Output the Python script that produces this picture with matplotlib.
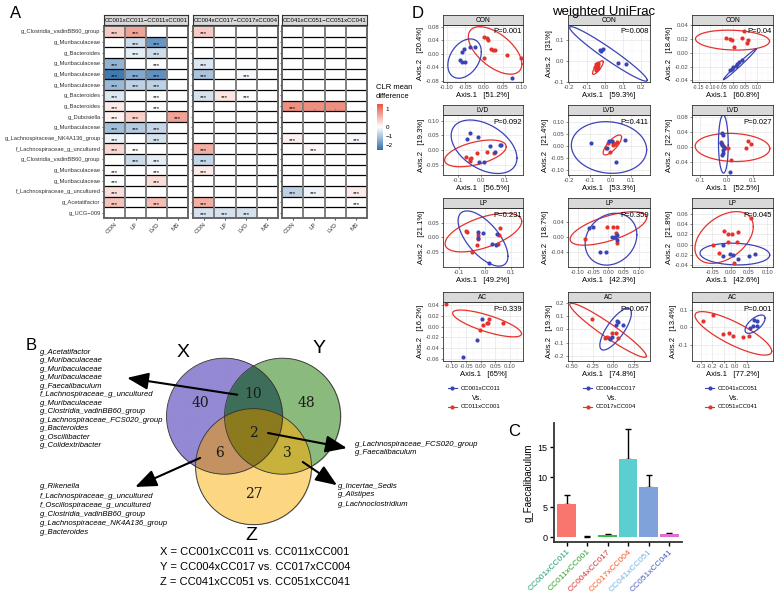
import numpy as np
import matplotlib
matplotlib.use('Agg')
import matplotlib.pyplot as plt
from matplotlib.colors import LinearSegmentedColormap, TwoSlopeNorm, to_rgba
from matplotlib.patches import Circle
from matplotlib.lines import Line2D
from matplotlib.ticker import AutoMinorLocator, FormatStrFormatter
import matplotlib.cm as cm

plt.rcParams['font.family'] = ['Liberation Sans', 'DejaVu Sans']

W, H = 778, 596
n = np.nan

# ---------------- panel A data ----------------
genera = ['g_Clostridia_vadinBB60_group', 'g_Muribaculaceae', 'g_Bacteroides', 'g_Muribaculaceae',
          'g_Muribaculaceae', 'g_Muribaculaceae', 'g_Bacteroides', 'g_Bacteroides', 'g_Dubosiella',
          'g_Muribaculaceae', 'g_Lachnospiraceae_NK4A136_group', 'f_Lachnospiraceae_g_uncultured',
          'g_Clostridia_vadinBB60_group', 'g_Muribaculaceae', 'g_Muribaculaceae',
          'f_Lachnospiraceae_g_uncultured', 'g_Acetatifactor', 'g_UCG\u2212009']
sites = ['CON', 'LP', 'LVD', 'MS']
facet_titles = ['CC001xCC011\u2212CC011xCC001', 'CC004xCC017\u2212CC017xCC004',
                'CC041xCC051\u2212CC051xCC041']
clr_x = [[0.4, 0.7, n, n], [n, -0.6, -1.8, n], [n, -0.3, -0.6, n], [-1.3, n, -0.05, n],
         [-2.3, -1.5, -1.9, n], [-1.2, -0.8, -0.8, n], [-0.4, n, -0.05, n], [0.15, n, 0.0, n],
         [0.1, 0.35, n, 0.7], [-1.1, -0.9, -0.7, n], [-0.2, n, -0.5, n], [0.3, 0.0, n, n],
         [n, -0.6, -0.3, n], [0.0, n, 0.0, n], [0.0, n, 0.25, n], [0.25, n, n, n],
         [0.45, n, 0.5, n], [n, n, n, n]]
clr_y = [[0.4, n, n, n], [n, n, n, n], [n, n, n, n], [-0.4, n, n, n], [-1.0, n, -0.1, n],
         [n, n, n, n], [-0.5, 0.2, -0.05, n], [n, n, n, n], [n, n, n, n], [n, n, n, n],
         [n, n, n, n], [0.6, n, n, n], [-0.7, n, n, n], [0.15, n, n, n], [n, n, n, n],
         [n, n, n, n], [0.6, n, n, n], [-0.5, -0.5, -0.5, n]]
clr_z = [[n, n, n, n], [n, n, n, n], [n, n, n, n], [n, n, n, n], [n, n, n, n], [n, n, n, n],
         [n, n, n, n], [0.85, 0.85, 0.85, n], [n, n, n, n], [n, n, n, n], [0.1, n, n, -0.1],
         [n, 0.05, n, n], [n, n, n, n], [n, n, n, n], [n, n, n, n], [-0.8, -0.2, n, 0.15],
         [n, n, n, 0.0], [n, n, n, n]]
dot_cells_z = [(7, 1), (7, 2)]

# ---------------- panel B data ----------------
venn_codes = ['100', '010', '001', '110', '101', '011', '111']
venn_counts = [40, 48, 27, 10, 6, 3, 2]
venn_colors = ['#9489d4', '#8bbb7d', '#fdd782', '#3e6e5a', '#c49262', '#c8b23c', '#8c7a1e']
list_xy = ['g_Acetatifactor', 'g_Muribaculaceae', 'g_Muribaculaceae', 'g_Muribaculaceae',
           'g_Faecalibaculum', 'f_Lachnospiraceae_g_uncultured', 'g_Muribaculaceae',
           'g_Clostridia_vadinBB60_group', 'g_Lachnospiraceae_FCS020_group', 'g_Bacteroides',
           'g_Oscillibacter', 'g_Colidextribacter']
list_xz = ['g_Rikenella', 'f_Lachnospiraceae_g_uncultured', 'f_Oscillospiraceae_g_uncultured',
           'g_Clostridia_vadinBB60_group', 'g_Lachnospiraceae_NK4A136_group', 'g_Bacteroides']
list_xyz = ['g_Lachnospiraceae_FCS020_group', 'g_Faecalibaculum']
list_yz = ['g_Incertae_Sedis', 'g_Alistipes', 'g_Lachnoclostridium']
venn_defs = ['X = CC001xCC011 vs. CC011xCC001', 'Y = CC004xCC017 vs. CC017xCC004',
             'Z = CC041xCC051 vs. CC051xCC041']

# ---------------- panel C data ----------------
crosses = ['CC001xCC011', 'CC011xCC001', 'CC004xCC017', 'CC017xCC004', 'CC041xCC051', 'CC051xCC041']
faecal_mean = [5.5, 0.05, 0.3, 13.0, 8.3, 0.45]
faecal_err = [1.5, 0.05, 0.2, 5.0, 2.0, 0.2]
bar_colors = ['#F8766D', '#C8B560', '#3DB847', '#5BCFCF', '#7FA2DA', '#E070D0']
label_colors = ['#1f9e6e', '#2ca02c', '#e0302f', '#f05a28', '#6cb4e4', '#4a5cc0']

# ---------------- panel D data ----------------
sites_d = ['CON', 'LVD', 'LP', 'AC']
pairs = [('CC001xCC011', 'CC011xCC001'), ('CC004xCC017', 'CC017xCC004'), ('CC041xCC051', 'CC051xCC041')]
p_values = [['P=0.001', 'P=0.008', 'P=0.04'], ['P=0.092', 'P=0.411', 'P=0.027'],
            ['P=0.231', 'P=0.359', 'P=0.045'], ['P=0.339', 'P=0.067', 'P=0.001']]
axis1_pct = [['51.2%', '59.3%', '60.8%'], ['56.5%', '53.3%', '52.5%'],
             ['49.2%', '42.3%', '42.6%'], ['65%', '74.8%', '77.2%']]
axis2_pct = [['20.4%', '31%', '18.4%'], ['19.3%', '21.4%', '22.7%'],
             ['21.1%', '18.7%', '21.8%'], ['16.2%', '19.3%', '13.4%']]

CON_A_RED = [(0.000, 0.051), (0.009, 0.047), (0.012, 0.040), (0.018, 0.014), (0.024, 0.012),
             (0.030, 0.011), (0.000, -0.012), (0.063, -0.003), (0.100, -0.012)]
CON_A_BLUE = [(-0.060, 0.005), (-0.053, 0.014), (-0.038, 0.020), (-0.023, 0.020), (-0.064, -0.019),
              (-0.058, -0.023), (-0.051, -0.025), (0.076, -0.070)]
CON_B_RED = [(-0.047, -0.013), (-0.039, -0.021), (-0.054, -0.029), (-0.043, -0.037), (-0.050, -0.046),
             (-0.036, -0.010), (-0.045, -0.025), (-0.040, -0.032)]
CON_B_BLUE = [(-0.028, 0.055), (-0.013, 0.060), (-0.022, 0.049), (0.075, -0.010), (0.118, -0.013)]
CON_C_RED = [(-0.031, 0.022), (-0.014, 0.020), (-0.007, 0.018), (0.003, 0.008), (0.036, 0.022),
             (0.046, 0.032), (0.064, 0.019), (0.060, 0.015)]
CON_C_BLUE = [(-0.014, -0.025), (-0.007, -0.023), (0.000, -0.020), (0.010, -0.019), (0.017, -0.016),
              (0.026, -0.013), (0.036, -0.011)]
LVD_A_RED = [(-0.067, -0.023), (-0.046, -0.026), (-0.047, -0.038), (-0.017, -0.011), (0.024, -0.006),
             (0.056, -0.011), (-0.050, -0.032)]
LVD_A_BLUE = [(-0.047, 0.059), (-0.061, 0.036), (-0.013, 0.045), (0.039, 0.015), (0.061, -0.007),
              (0.079, 0.016), (0.084, 0.018), (-0.010, -0.042), (0.011, -0.041)]
LVD_B_RED = [(-0.011, 0.010), (0.010, 0.013), (0.021, 0.007), (0.029, 0.014), (-0.003, -0.025),
             (-0.022, -0.011), (0.013, 0.003)]
LVD_B_BLUE = [(-0.094, 0.013), (-0.006, 0.021), (0.069, 0.025), (0.026, -0.067), (0.005, 0.020),
              (-0.016, -0.011)]
LVD_C_RED = [(-0.022, 0.015), (-0.018, 0.009), (-0.013, 0.004), (-0.005, -0.003), (0.006, -0.003),
             (0.015, -0.034), (0.073, -0.003), (0.081, 0.018), (0.091, 0.009)]
LVD_C_BLUE = [(-0.019, 0.037), (-0.015, 0.033), (-0.022, 0.012), (-0.019, 0.006), (-0.015, -0.007),
              (-0.013, -0.016), (-0.019, -0.020), (-0.010, 0.002), (0.013, -0.065)]
LP_A_RED = [(-0.073, 0.022), (-0.068, 0.019), (-0.028, 0.008), (-0.026, -0.006), (0.058, 0.031),
            (0.054, 0.008), (-0.032, -0.027), (-0.051, -0.050), (0.051, -0.023)]
LP_A_BLUE = [(-0.026, 0.019), (-0.007, 0.014), (-0.028, -0.003), (0.045, 0.011), (0.026, -0.023),
             (0.042, -0.025), (0.017, -0.088)]
LP_B_RED = [(-0.076, -0.005), (-0.003, 0.027), (0.014, 0.027), (0.029, 0.027), (0.024, 0.011),
            (0.027, -0.016)]
LP_B_BLUE = [(-0.065, 0.024), (-0.051, 0.027), (0.011, 0.000), (0.022, 0.002), (0.029, 0.006),
             (0.027, -0.007), (-0.027, -0.038), (-0.008, -0.038)]
LP_C_RED = [(-0.018, 0.027), (-0.007, 0.020), (0.003, 0.020), (0.021, 0.025), (0.016, 0.005),
            (0.057, 0.051), (-0.049, -0.001), (-0.007, 0.006), (-0.031, -0.016), (0.009, -0.036)]
LP_C_BLUE = [(-0.022, -0.001), (-0.022, -0.022), (-0.002, -0.018), (0.005, -0.020), (0.021, -0.028),
             (0.051, -0.022), (0.066, -0.017)]
AC_A_RED = [(-0.119, 0.042), (-0.002, -0.007), (0.009, 0.003), (0.021, 0.007), (0.026, 0.006),
            (0.029, 0.015), (0.075, 0.006)]
AC_A_BLUE = [(0.005, 0.014), (-0.012, -0.025), (-0.060, -0.057)]
AC_B_RED = [(-0.262, 0.078), (-0.073, -0.056), (-0.049, -0.068), (-0.007, -0.030), (0.033, -0.030),
            (0.061, -0.068), (-0.100, -0.066)]
AC_B_BLUE = [(0.033, 0.033), (0.049, 0.065), (0.061, 0.058), (0.121, 0.033), (-0.019, -0.061),
             (-0.032, -0.076)]
AC_C_RED = [(-0.276, 0.038), (-0.194, 0.070), (-0.107, -0.037), (-0.050, -0.033), (-0.015, -0.046),
            (0.067, -0.052), (0.124, -0.048)]
AC_C_BLUE = [(0.130, -0.004), (0.165, 0.042), (0.189, 0.038), (0.194, 0.008), (0.159, 0.008)]

# 95% ellipses: centre x, centre y, half-range x, half-range y, phase (deg)
ELL_RED = [[(0.030, 0.010, 0.072, 0.070, 125), (-0.039, -0.032, 0.030, 0.033, 35), (-0.004, 0.0185, 0.160, 0.0145, 97)],
           [(-0.025, -0.0115, 0.132, 0.0455, 60), (0.009, 0.003, 0.044, 0.042, 40), (0.022, -0.0005, 0.141, 0.0375, 95)],
           [(-0.0065, 0.0165, 0.1475, 0.0665, 55), (0.0, 0.0235, 0.125, 0.0445, 50), (-0.018, 0.014, 0.080, 0.050, 65)],
           [(0.022, 0.006, 0.118, 0.025, 140), (-0.0605, -0.0075, 0.4655, 0.2045, 162), (-0.0145, -0.033, 0.3335, 0.122, 145)]]
ELL_BLUE = [[(-0.052, -0.014, 0.045, 0.058, 70), (0.020, 0.034, 0.217, 0.132, 165), (0.028, -0.0165, 0.071, 0.0225, 8)],
            [(0.012, 0.011, 0.141, 0.091, 115), (-0.007, -0.0075, 0.180, 0.1085, 95), (-0.0125, 0.0085, 0.0185, 0.0775, 92)],
            [(-0.008, -0.004, 0.096, 0.095, 130), (0.0085, -0.005, 0.0845, 0.069, 80), (0.0115, -0.018, 0.0955, 0.021, 95)],
            [None, (0.031, 0.001, 0.192, 0.158, 40), (0.174, 0.0185, 0.087, 0.0515, 50)]]

X_LIMS = [[(-0.11, 0.105), (-0.206, 0.252), (-0.179, 0.171)],
          [(-0.164, 0.179), (-0.203, 0.189), (-0.131, 0.175)],
          [(-0.162, 0.146), (-0.132, 0.136), (-0.106, 0.116)],
          [(-0.129, 0.145), (-0.548, 0.449), (-0.374, 0.330)]]
Y_LIMS = [[(-0.083, 0.085), (-0.102, 0.174), (-0.0424, 0.0405)],
          [(-0.085, 0.119), (-0.123, 0.129), (-0.074, 0.086)],
          [(-0.102, 0.101), (-0.079, 0.078), (-0.043, 0.071)],
          [(-0.064, 0.046), (-0.240, 0.207), (-0.188, 0.143)]]
X_TICKS = [[[-0.10, -0.05, 0, 0.05, 0.10], [-0.2, -0.1, 0, 0.1, 0.2], [-0.15, -0.10, -0.05, 0, 0.05, 0.10]],
           [[-0.1, 0, 0.1], [-0.2, -0.1, 0, 0.1], [-0.1, 0, 0.1]],
           [[-0.1, 0, 0.1], [-0.10, -0.05, 0, 0.05, 0.10], [-0.05, 0, 0.05, 0.10]],
           [[-0.10, -0.05, 0, 0.05, 0.10], [-0.50, -0.25, 0, 0.25], [-0.3, -0.2, -0.1, 0, 0.1]]]
Y_TICKS = [[[-0.08, -0.04, 0, 0.04, 0.08], [-0.1, 0, 0.1], [-0.04, -0.02, 0, 0.02, 0.04]],
           [[-0.05, 0, 0.05, 0.10], [-0.10, -0.05, 0, 0.05, 0.10], [-0.04, 0, 0.04, 0.08]],
           [[-0.05, 0, 0.05], [-0.04, 0, 0.04], [-0.04, -0.02, 0, 0.02, 0.04, 0.06]],
           [[-0.06, -0.04, -0.02, 0, 0.02, 0.04], [-0.2, -0.1, 0, 0.1, 0.2], [-0.1, 0, 0.1]]]
X_DEC = [[2, 1, 2], [1, 1, 1], [1, 2, 2], [2, 2, 1]]
Y_DEC = [[2, 1, 2], [2, 2, 2], [2, 2, 2], [2, 1, 1]]
POINTS_RED = [[CON_A_RED, CON_B_RED, CON_C_RED], [LVD_A_RED, LVD_B_RED, LVD_C_RED],
              [LP_A_RED, LP_B_RED, LP_C_RED], [AC_A_RED, AC_B_RED, AC_C_RED]]
POINTS_BLUE = [[CON_A_BLUE, CON_B_BLUE, CON_C_BLUE], [LVD_A_BLUE, LVD_B_BLUE, LVD_C_BLUE],
               [LP_A_BLUE, LP_B_BLUE, LP_C_BLUE], [AC_A_BLUE, AC_B_BLUE, AC_C_BLUE]]

RED = '#e5322d'
BLUE = '#3b44b5'


def box(l, t, r, b):
    return [l / W, 1 - b / H, (r - l) / W, (b - t) / H]


def fx(x):
    return x / W


def fy(y):
    return 1 - y / H


fig = plt.figure(figsize=(W / 100, H / 100), dpi=100)

# ================= A: heatmap =================
cmap = LinearSegmentedColormap.from_list('clr', ['#2f6fad', '#ffffff', '#e8553f'])
norm = TwoSlopeNorm(vmin=-2.5, vcenter=0, vmax=1.3)
facet_px = [(104, 188), (193, 278), (282, 367)]
for k, (mat, (l, r)) in enumerate(zip([clr_x, clr_y, clr_z], facet_px)):
    arr = np.array(mat, dtype=float)
    ax = fig.add_axes(box(l, 26, r, 218))
    ax.imshow(np.ma.masked_invalid(arr), cmap=cmap, norm=norm, aspect='auto',
              extent=(-0.5, 3.5, len(genera) - 0.5, -0.5), interpolation='nearest')
    for i in range(1, len(genera)):
        ax.axhline(i - 0.5, color='black', lw=0.9)
    for j in range(1, 4):
        ax.axvline(j - 0.5, color='#808080', lw=1.4)
    for i in range(arr.shape[0]):
        for j in range(arr.shape[1]):
            if not np.isnan(arr[i, j]):
                lab = '.' if (k == 2 and (i, j) in dot_cells_z) else '***'
                ax.text(j, i + 0.22, lab, ha='center', va='center', fontsize=4.3)
    ax.set_xticks(range(4))
    ax.set_xticklabels(sites, rotation=45, ha='right', rotation_mode='anchor', fontsize=4.5, color='#333333')
    ax.set_yticks(range(len(genera)))
    ax.set_yticklabels(genera if k == 0 else [], fontsize=4.15, color='#333333')
    ax.tick_params(length=1.5, width=0.5, pad=1)
    for s in ax.spines.values():
        s.set_color('#666666')
        s.set_linewidth(1.4)
    sax = fig.add_axes(box(l, 15, r, 25))
    sax.set_facecolor('#d9d9d9')
    sax.set_xticks([])
    sax.set_yticks([])
    for s in sax.spines.values():
        s.set_color('#333333')
        s.set_linewidth(0.8)
    sax.text(0.5, 0.45, facet_titles[k], ha='center', va='center', fontsize=4.3, transform=sax.transAxes)

cax = fig.add_axes(box(377, 104, 383, 150))
sm = cm.ScalarMappable(norm=norm, cmap=cmap)
cb = fig.colorbar(sm, cax=cax, ticks=[1, 0, -1, -2])
cb.outline.set_visible(False)
cax.tick_params(labelsize=4.5, length=0, pad=2)
fig.text(fx(376), fy(84), 'CLR mean\ndifference', ha='left', va='top', fontsize=5.5, linespacing=1.4)
fig.text(fx(16), fy(13), 'A', ha='center', va='center', fontsize=12)

# ================= B: venn =================
vax = fig.add_axes(box(137.5, 322.8, 369.5, 543.2))
vax.set_xlim(-2, 2)
vax.set_ylim(-1.9, 1.9)
vax.axis('off')
centers = [(-0.5, 0.29), (0.5, 0.29), (0.0, -0.58)]
gx, gy = np.meshgrid(np.linspace(-1.6, 1.6, 800), np.linspace(-1.7, 1.4, 800))
inside = [(gx - c[0]) ** 2 + (gy - c[1]) ** 2 <= 1 for c in centers]
img = np.zeros(gx.shape + (4,))
for code, col, cnt in zip(venn_codes, venn_colors, venn_counts):
    mask = np.ones(gx.shape, dtype=bool)
    for b, ins in zip(code, inside):
        mask &= ins if b == '1' else ~ins
    img[mask] = to_rgba(col)
    vax.text(gx[mask].mean(), gy[mask].mean(), str(cnt), ha='center', va='center',
             fontsize=10, family='DejaVu Serif', color='#1a1a1a')
vax.imshow(img, extent=(-1.6, 1.6, -1.7, 1.4), origin='lower', interpolation='bilinear', zorder=0)
for c in centers:
    vax.add_patch(Circle(c, 1, fill=False, ec='#333333', lw=0.6))
vax.text(-1.22, 1.38, 'X', ha='center', va='center', fontsize=14)
vax.text(1.13, 1.45, 'Y', ha='center', va='center', fontsize=14)
vax.text(-0.03, -1.76, 'Z', ha='center', va='center', fontsize=14)
arrows = [((-0.28, 0.66), (-2.18, 0.95)), ((0.25, 0.0), (1.61, -0.26)),
          ((-0.92, -0.43), (-2.04, -0.93)), ((0.85, -0.50), (1.44, -0.90))]
for start, end in arrows:
    vax.annotate('', xy=end, xytext=start, annotation_clip=False,
                 arrowprops=dict(arrowstyle='-|>,head_length=1.0,head_width=0.4', lw=1.5,
                                 color='black', mutation_scale=13, shrinkA=0, shrinkB=0))

for i, s in enumerate(list_xy):
    fig.text(fx(40), fy(352 + i * 8.53), s, ha='left', va='center', fontsize=5.6, style='italic')
for i, s in enumerate(list_xz):
    fig.text(fx(40), fy(487 + i * 9.2), s, ha='left', va='center', fontsize=5.6, style='italic')
for i, s in enumerate(list_xyz):
    fig.text(fx(355), fy(444 + i * 9), s, ha='left', va='center', fontsize=5.6, style='italic')
for i, s in enumerate(list_yz):
    fig.text(fx(338), fy(486 + i * 9), s, ha='left', va='center', fontsize=5.6, style='italic')
for i, s in enumerate(venn_defs):
    fig.text(fx(160), fy(552 + i * 15), s, ha='left', va='center', fontsize=8)
fig.text(fx(31), fy(346), 'B', ha='center', va='center', fontsize=12)

# ================= C: bars =================
bx = fig.add_axes(box(554, 423, 682, 542))
pos = np.arange(len(crosses))
bx.bar(pos, faecal_mean, width=0.92, color=bar_colors, zorder=2)
bx.errorbar(pos, faecal_mean, yerr=[np.zeros(len(pos)), faecal_err], fmt='none',
            ecolor='black', elinewidth=1.0, capsize=2.2, capthick=1.0, zorder=1)
bx.set_xlim(-0.61, 5.63)
bx.set_ylim(-0.83, 19)
bx.set_yticks([0, 5, 10, 15])
bx.set_xticks(pos)
bx.set_xticklabels(crosses, rotation=45, ha='right', rotation_mode='anchor', fontsize=6)
for t, c in zip(bx.get_xticklabels(), label_colors):
    t.set_color(c)
bx.tick_params(labelsize=6.5, length=3, width=1, pad=1.5)
bx.tick_params(axis='x', labelsize=6)
for s in ['top', 'right']:
    bx.spines[s].set_visible(False)
for s in ['left', 'bottom']:
    bx.spines[s].set_linewidth(1.3)
    bx.spines[s].set_color('#333333')
bx.set_ylabel('g_Faecalibaculum', fontsize=7, labelpad=3)
fig.text(fx(514), fy(431), 'C', ha='center', va='center', fontsize=12)

# ================= D: PCoA =================
col_px = [(443, 523), (568, 650), (692, 773)]
row_px = [(25, 82), (115, 175), (208, 267), (302, 361)]
tt = np.linspace(0, 2 * np.pi, 200)
for r in range(4):
    for c in range(3):
        l, rr = col_px[c]
        t, b = row_px[r]
        ax = fig.add_axes(box(l, t, rr, b))
        ax.set_facecolor('white')
        ax.set_xlim(*X_LIMS[r][c])
        ax.set_ylim(*Y_LIMS[r][c])
        ax.set_xticks(X_TICKS[r][c])
        ax.set_yticks(Y_TICKS[r][c])
        ax.xaxis.set_major_formatter(FormatStrFormatter('%%.%df' % X_DEC[r][c]))
        ax.yaxis.set_major_formatter(FormatStrFormatter('%%.%df' % Y_DEC[r][c]))
        ax.xaxis.set_minor_locator(AutoMinorLocator(2))
        ax.yaxis.set_minor_locator(AutoMinorLocator(2))
        ax.grid(which='major', color='#e6e6e6', lw=0.5)
        ax.grid(which='minor', color='#f3f3f3', lw=0.3)
        ax.set_axisbelow(True)
        xfs = 3.6 if len(X_TICKS[r][c]) > 5 else 4.3
        ax.tick_params(which='major', labelsize=4.3, length=1.5, width=0.4, pad=1,
                       labelcolor='#4d4d4d', color='#333333')
        ax.tick_params(axis='x', which='major', labelsize=xfs)
        ax.tick_params(which='minor', length=0)
        for s in ax.spines.values():
            s.set_color('#333333')
            s.set_linewidth(0.6)
        for pts, col in [(POINTS_RED[r][c], RED), (POINTS_BLUE[r][c], BLUE)]:
            ax.scatter([p[0] for p in pts], [p[1] for p in pts], s=9, color=col, lw=0, zorder=3)
        for e, col in [(ELL_RED[r][c], RED), (ELL_BLUE[r][c], BLUE)]:
            if e is None:
                continue
            cx, cy, rx, ry, ph = e
            ax.plot(cx + rx * np.cos(tt), cy + ry * np.cos(tt + np.radians(ph)), color=col, lw=0.9, zorder=2)
        ax.text(0.985, 0.88, p_values[r][c], transform=ax.transAxes, ha='right', va='center', fontsize=5.5)
        ax.set_xlabel('Axis.1   [%s]' % axis1_pct[r][c], fontsize=5.5, labelpad=1)
        ax.set_ylabel('Axis.2   [%s]' % axis2_pct[r][c], fontsize=5.5, labelpad=1)
        sax = fig.add_axes(box(l, t - 10, rr, t))
        sax.set_facecolor('#d9d9d9')
        sax.set_xticks([])
        sax.set_yticks([])
        for s in sax.spines.values():
            s.set_color('#333333')
            s.set_linewidth(0.6)
        sax.text(0.5, 0.45, sites_d[r], ha='center', va='center', fontsize=4.8, transform=sax.transAxes)

leg_x = [448, 583, 705]
for c in range(3):
    x0 = leg_x[c]
    for yy, col, name in [(388, BLUE, pairs[c][0]), (407, RED, pairs[c][1])]:
        fig.add_artist(Line2D([fx(x0), fx(x0 + 9)], [fy(yy), fy(yy)], color=col, lw=0.8,
                              marker=None, transform=fig.transFigure))
        fig.add_artist(Line2D([fx(x0 + 4.5)], [fy(yy)], color=col, marker='o', ms=2,
                              lw=0, transform=fig.transFigure))
        fig.text(fx(x0 + 13), fy(yy), name, ha='left', va='center', fontsize=4.3)
    fig.text(fx(x0 + 29), fy(398), 'Vs.', ha='center', va='center', fontsize=5)

fig.text(fx(604), fy(12), 'weighted UniFrac', ha='center', va='center', fontsize=9.5)
fig.text(fx(418), fy(14), 'D', ha='center', va='center', fontsize=12)

fig.savefig('out.png', dpi=100)
